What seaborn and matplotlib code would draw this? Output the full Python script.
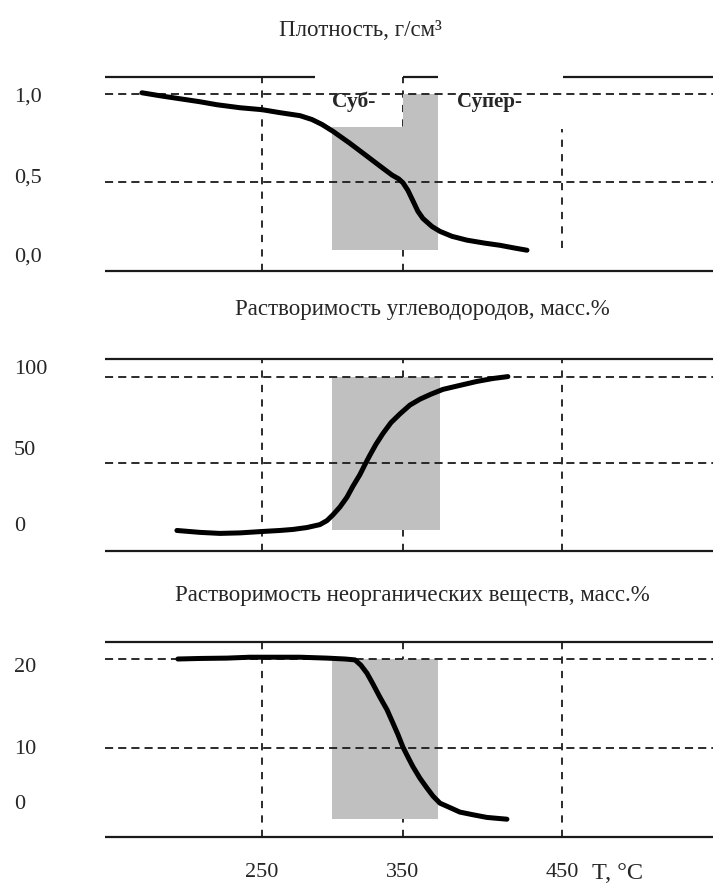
import numpy as np
import matplotlib
matplotlib.use("Agg")
import matplotlib.pyplot as plt
import matplotlib.transforms as mtransforms
import seaborn as sns

# ---------------- data ----------------
# Panel 1: density, g/cm3
T_density = [164.9, 177.7, 191.8, 206.0, 218.1, 234.4, 250.0, 262.8, 277.0, 285.5,
             292.6, 300.4, 312.4, 324.5, 333.7, 342.2, 347.0, 350.0, 353.1, 356.3, 359.4,
             362.6, 368.2, 373.3, 380.8, 390.3, 401.6, 411.0, 420.4, 428.0]
density = [1.006, 0.989, 0.972, 0.955, 0.938, 0.921, 0.910, 0.893, 0.876, 0.854,
           0.826, 0.787, 0.719, 0.646, 0.590, 0.539, 0.517, 0.495, 0.452, 0.392, 0.333,
           0.292, 0.247, 0.219, 0.191, 0.169, 0.152, 0.140, 0.124, 0.112]

# Panel 2: hydrocarbon solubility, mass %
T_hc = [189.7, 206.0, 220.2, 234.4, 250.0, 262.8, 272.0, 281.9, 291.1, 296.1,
        300.4, 305.3, 310.3, 314.5, 319.5, 323.0, 326.6, 330.9, 335.8, 341.5,
        347.9, 354.4, 360.7, 367.6, 375.2, 385.8, 396.5, 406.6, 416.0]
hc_solubility = [10.8, 9.7, 9.1, 9.4, 10.2, 10.8, 11.4, 12.5, 14.2, 16.5,
                 19.9, 24.4, 30.1, 36.4, 43.2, 48.9, 54.5, 60.8, 67.0, 73.3,
                 78.4, 83.5, 86.9, 89.8, 92.6, 94.9, 97.2, 98.9, 100.0]

# Panel 3: inorganic solubility, mass %
T_inorg = [190.4, 206.0, 225.2, 241.5, 260.6, 277.0, 296.1, 308.9, 316.0, 320.2,
           324.5, 328.7, 333.7, 338.7, 342.9, 346.5, 350.0, 353.1, 356.3, 360.7,
           365.1, 368.9, 373.3, 379.6, 385.8, 394.0, 402.8, 415.4]
inorg_solubility = [20.0, 20.06, 20.1, 20.2, 20.2, 20.2, 20.1, 20.0, 19.9, 19.3,
                    18.4, 17.2, 15.7, 14.3, 12.8, 11.5, 10.1, 9.0, 7.9, 6.6,
                    5.5, 4.6, 3.8, 3.3, 2.8, 2.5, 2.2, 2.0]

# shaded (sub-/supercritical) regions: [x0, x1, y0, y1]
shade_density = [[300, 350, 0.112, 0.809], [350, 372, 0.112, 1.00]]
shade_hc = [[300, 373, 10.8, 100.0]]
shade_inorg = [[300, 372, 2.0, 20.0]]

titles = ["Плотность, г/см³",
          "Растворимость углеводородов, масс.%",
          "Растворимость неорганических веществ, масс.%"]
x_ticks = [250, 350, 450]
x_ticklabels = ["250", "350", "450"]
y_ticks = [[1.0, 0.5, 0.0], [100, 50, 0], [20, 10, 0]]
y_ticklabels = [["1,0", "0,5", "0,0"], ["100", "50", "0"], ["20", "10", "0"]]
region_labels = ["Суб-", "Супер-"]
x_unit = "T, °C"

# ---------------- style ----------------
sns.set_theme(style="white")
plt.rcParams["font.family"] = ["Liberation Serif", "DejaVu Serif"]
FS = 16
FS_TITLE = 16.5

# piecewise-linear temperature scale (schematic axis as in the original)
_kn_data = np.array([100.0, 250.0, 350.0, 450.0, 600.0])
_kn_pos = np.array([50.5, 262.0, 403.0, 562.0, 800.5])
def fwd(x):
    return np.interp(np.asarray(x, dtype=float), _kn_data, _kn_pos)
def inv(p):
    return np.interp(np.asarray(p, dtype=float), _kn_pos, _kn_data)

fig = plt.figure(figsize=(7.13, 8.88), dpi=100)
W, H = 713.0, 888.0
left = 105 / W
panels = [  # (top px, bottom px, ylim)
    (77, 271, (-0.006, 1.0955)),
    (359, 551, (-1.1, 110.2)),
    (642, 837, (0.0, 21.91)),
]
series = [(T_density, density), (T_hc, hc_solubility), (T_inorg, inorg_solubility)]
shades = [shade_density, shade_hc, shade_inorg]
# vertical offsets of y tick labels (px, positive = down) as placed in the original
label_shift = [[1, -6, -15], [-10, -15, -25], [6, -1, -35]]
title_pos = [(360, 30), (422, 310), (412, 595)]

GRAY = "#c0c0c0"
LINE = "#1a1a1a"
dash_h = (0, (4.5, 2.8))
dash_v = (0, (4.0, 4.0))

axes = []
for i, (top, bot, ylim) in enumerate(panels):
    ax = fig.add_axes([left, 1 - bot / H, 1 - left, (bot - top) / H])
    axes.append(ax)
    ax.set_xscale("function", functions=(fwd, inv))
    ax.set_xlim(138.7, 545)
    ax.set_ylim(*ylim)
    for s in ax.spines.values():
        s.set_visible(False)
    ax.set_facecolor("white")

    # shaded region
    for x0, x1, y0, y1 in shades[i]:
        ax.fill_between([x0, x1], [y0, y0], [y1, y1], color=GRAY, lw=0, zorder=1)

    # top / bottom frame lines
    ytop, ybot = ylim[1], ylim[0]
    if i == 0:
        for a, b in [(138.7, 287.6), (350, 372), (450.6, 545)]:
            ax.hlines(ytop, a, b, color=LINE, lw=1.6, zorder=3, clip_on=False)
    else:
        ax.hlines(ytop, 138.7, 545, color=LINE, lw=1.6, zorder=3, clip_on=False)
    ax.hlines(ybot, 138.7, 545, color=LINE, lw=1.6, zorder=3, clip_on=False)

    # dashed horizontal grid lines (excluding the bottom value)
    for yv in y_ticks[i][:2]:
        ax.axhline(yv, color=LINE, lw=1.3, ls=dash_h, zorder=2)

    # dashed vertical lines
    for xv in x_ticks:
        if i == 0 and xv == 450:
            ax.vlines(xv, 0.124, 0.80, color=LINE, lw=1.3, ls=dash_v, zorder=0.5)
        else:
            ax.axvline(xv, color=LINE, lw=1.3, ls=dash_v, zorder=0.5)

    # curve
    Tx, Yv = series[i]
    sns.lineplot(x=Tx, y=Yv, ax=ax, color="black", lw=3.6, zorder=5,
                 estimator=None, sort=False, solid_capstyle="round",
                 solid_joinstyle="round")

    # ticks
    ax.set_yticks(y_ticks[i])
    ax.set_yticklabels(y_ticklabels[i], fontsize=FS, ha="left")
    ax.tick_params(axis="y", length=0, pad=(105 - 14) * 72 / 100)
    for lab, dy in zip(ax.get_yticklabels(), label_shift[i]):
        lab.set_transform(lab.get_transform() +
                          mtransforms.ScaledTranslation(0, -dy / 100.0, fig.dpi_scale_trans))
    if i == 2:
        ax.set_xticks(x_ticks)
        ax.set_xticklabels(x_ticklabels, fontsize=FS)
        ax.tick_params(axis="x", length=0, pad=26 * 72 / 100)
        fig.text(592 / W, 1 - 873 / H, x_unit, fontsize=17.5, ha="left", va="center")
    else:
        ax.set_xticks([])
    ax.set_xlabel("")
    ax.set_ylabel("")

    tx, ty = title_pos[i]
    fig.text(tx / W, 1 - ty / H, titles[i], fontsize=FS_TITLE, ha="center", va="center")

# region labels in the density panel
fig.text(332 / W, 1 - 102 / H, region_labels[0], fontsize=15.5, fontweight="bold",
         ha="left", va="center", zorder=6)
fig.text(457 / W, 1 - 102 / H, region_labels[1], fontsize=15, fontweight="bold",
         ha="left", va="center", zorder=6)

fig.savefig("out.png", dpi=100, facecolor="white")
